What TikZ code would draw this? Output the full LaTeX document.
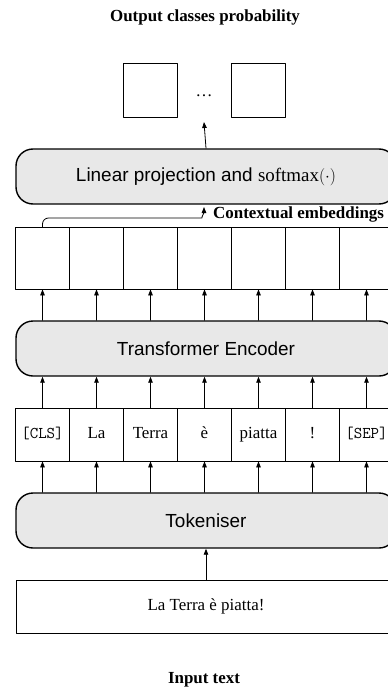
\documentclass[tikz,border=0pt]{standalone}
\usepackage{fontspec}
\setmainfont{Liberation Serif}
\newfontfamily\helv{Liberation Sans}
\usetikzlibrary{arrows.meta}

\begin{document}
\begin{tikzpicture}[line cap=round, line join=round, >={Triangle[width=4.5bp,length=6bp]}, x=1bp, y=-1bp,
  block/.style={draw, line width=1.4bp, rounded corners=17bp, fill=gray!18,
    minimum width=380bp, minimum height=55bp, font=\helv\fontsize{19}{22}\selectfont},
  cell/.style={draw, line width=0.8bp, minimum width=54bp, minimum height=62bp, inner sep=0pt,
    text height=12bp, text depth=4bp, font=\fontsize{17}{20}\selectfont},
  label/.style={font=\bfseries\fontsize{17}{20}\selectfont, inner sep=0pt}]
  \useasboundingbox (0,0) rectangle (387,690);
  % titles
  \node[label] (outtitle) at (205,17) {Output classes probability};
  \node[label] (intitle) at (204,680) {Input text};
  % output classes
  \node[cell, minimum height=54bp] (out1) at (150.5,90) {};
  \node[cell, minimum height=54bp] (out2) at (258.5,90) {};
  \node[inner sep=0pt, font=\fontsize{17}{20}\selectfont] (dots) at (204,96) {\dots};
  % blocks
  \node[block] (lin) at (206,176.5) {Linear projection and $\mathrm{softmax}(\cdot)$};
  \node[block] (enc) at (206,348.5) {Transformer Encoder};
  \node[block] (tok) at (206,520.5) {Tokeniser};
  \node[cell, minimum width=380bp, minimum height=53bp] (inp) at (206,606.5) {La Terra è piatta!};
  % embeddings and tokens
  \foreach \i/\t in {1/{\fontsize{16.5}{18}\ttfamily[CLS]},2/La,3/Terra,4/è,5/piatta,6/!,7/{\fontsize{16.5}{18}\ttfamily[SEP]}} {
    \node[cell] (e\i) at ({42.5+54*(\i-1)},258) {};
    \node[cell, minimum height=53bp] (t\i) at ({42.5+54*(\i-1)},434.5) {\t};
  }
  \foreach \i in {1,...,7} {
    \draw[->, line width=0.8bp] (e\i |- enc.north) -- (e\i.south);
    \draw[->, line width=0.8bp] (t\i.north) -- (t\i |- enc.south);
    \draw[->, line width=0.8bp] (t\i |- tok.north) -- (t\i.south);
  }
  \node[label, anchor=west] (ctx) at (213,214) {Contextual embeddings};
  \coordinate (linin) at (204,207);
  \coordinate (outin) at (204,122);
  \draw[->, line width=0.8bp, rounded corners=6bp] (e1.north) |- (196,218) to[out=0,in=-90] (linin);
  \draw[->, line width=0.8bp] (lin.north) -- (outin);
  \draw[->, line width=0.8bp] (inp.north) -- (tok.south);
\end{tikzpicture}
\end{document}
